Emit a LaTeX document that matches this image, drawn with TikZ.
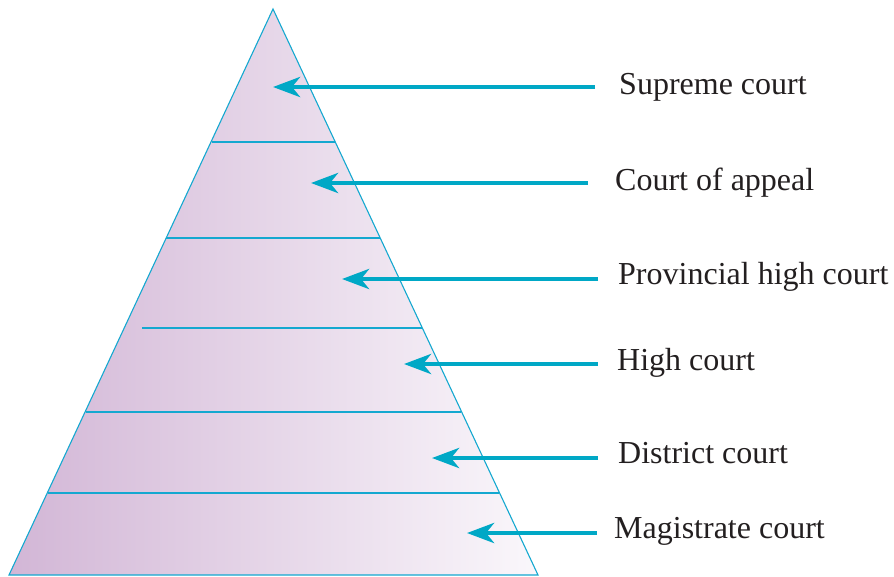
\documentclass[tikz,border=0pt]{standalone}
\usepackage{fontspec}
\setmainfont{Liberation Serif}
\usetikzlibrary{arrows.meta}

\definecolor{edgeblue}{RGB}{20,168,208}
\definecolor{arrowteal}{RGB}{0,168,198}
\definecolor{tierleft}{RGB}{210,182,214}
\definecolor{tierright}{RGB}{250,247,251}
\definecolor{labelink}{RGB}{35,31,32}

\tikzset{
  pyramid/.style={draw=edgeblue, line width=1.1pt, left color=tierleft, right color=tierright},
  tierline/.style={draw=edgeblue, line width=1.5pt},
  pointer/.style={draw=arrowteal, line width=4.6pt,
    -{Stealth[length=27pt, width=20pt, inset=8pt, fill=arrowteal]}},
  courtlabel/.style={anchor=base west, inner sep=0pt, text=labelink,
    font=\fontsize{32}{38}\selectfont},
}

\begin{document}
\begin{tikzpicture}[x=1pt, y=-1pt]
  \useasboundingbox (0,0) rectangle (894,576);

  % corners of the pyramid
  \coordinate (apex) at (273,9);
  \coordinate (baseL) at (9,575);
  \coordinate (baseR) at (538,575);

  \path[pyramid] (apex) -- (baseR) -- (baseL) -- cycle;

  % boundaries between the tiers
  \coordinate (t1L) at (212,142); \coordinate (t1R) at (335,142);
  \coordinate (t2L) at (166,238); \coordinate (t2R) at (380,238);
  \coordinate (t3L) at (142,328); \coordinate (t3R) at (422,328);
  \coordinate (t4L) at (86,412);  \coordinate (t4R) at (461,412);
  \coordinate (t5L) at (48,493);  \coordinate (t5R) at (499,493);
  \foreach \t in {1,...,5}
    \draw[tierline] (t\t L) -- (t\t R);

  % court names
  \node[courtlabel] (supreme)    at (619,94)  {Supreme court};
  \node[courtlabel] (appeal)     at (615,190) {Court of appeal};
  \node[courtlabel] (provincial) at (618,284) {Provincial high court};
  \node[courtlabel] (high)       at (617,370) {High court};
  \node[courtlabel] (district)   at (618,463) {District court};
  \node[courtlabel] (magistrate) at (614,538) {Magistrate court};

  % arrow ends: tails beside the names, tips inside the tiers
  \coordinate (supremeT)    at (595,87);  \coordinate (supremeH)    at (273,87);
  \coordinate (appealT)     at (588,183); \coordinate (appealH)     at (311,183);
  \coordinate (provincialT) at (598,279); \coordinate (provincialH) at (342,279);
  \coordinate (highT)       at (598,364); \coordinate (highH)       at (404,364);
  \coordinate (districtT)   at (598,458); \coordinate (districtH)   at (432,458);
  \coordinate (magistrateT) at (597,533); \coordinate (magistrateH) at (467,533);

  \foreach \c in {supreme,appeal,provincial,high,district,magistrate}
    \draw[pointer] (\c T) -- (\c H);
\end{tikzpicture}
\end{document}
